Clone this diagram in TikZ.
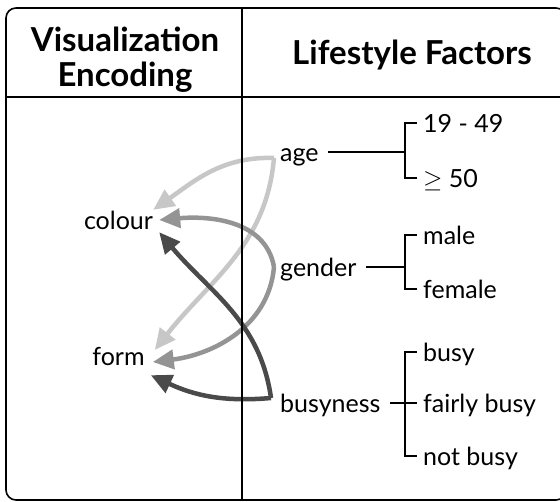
\documentclass[tikz,border=0pt]{standalone}
\usepackage{xcolor}
\usepackage{fontspec}
\setmainfont{Lato}
\usetikzlibrary{
		arrows.meta,
		calc,
		positioning
	}
\definecolor{agegray}{gray}{0.78}
\definecolor{gendergray}{gray}{0.58}
\definecolor{busygray}{gray}{0.29}
\tikzset{
		>={Triangle[length=21pt,width=19pt]},
		word/.style={font=\fontsize{25}{30}\selectfont, inner xsep=6pt, inner ysep=0pt,
			text height=20pt, text depth=0pt, anchor=base west},
		title/.style={font=\fontsize{33}{35}\selectfont\bfseries, align=center},
		tree/.style={line width=1.5pt},
		link/.style={->, line width=4.5pt}
	}

\begin{document}
\begin{tikzpicture}[x=1pt,y=1pt]
    \useasboundingbox (0,0) rectangle (560,502);

    % the headers
    \node[title, anchor=base] (enc) at (125,415) {Visualization\\Encoding};
    \node[title, anchor=base] (life) at (412,437) {Lifestyle Factors};

    % the encodings
    \node[word, anchor=base] (colour) at (118.5,272) {colour};
    \node[word, anchor=base] (form) at (118.5,136) {form};

    % the factors and their levels
    \node[word] (age) at (274,340) {age};
    \node[word] (ageup) at (417,369) {19 - 49};
    \node[word] (agelow) at (417,314) {$\geq$ 50};
    \node[word] (gender) at (274,225) {gender};
    \node[word] (male) at (417,257) {male};
    \node[word] (female) at (417,203) {female};
    \node[word] (busyness) at (274,89) {busyness};
    \node[word] (busy) at (417,140) {busy};
    \node[word] (fairly) at (417,89) {fairly busy};
    \node[word] (notbusy) at (417,36) {not busy};

    % the brackets
    \draw[tree, shorten <=3pt] (age.east) -- ([xshift=-12pt]ageup.west |- age.east);
    \draw[tree] (ageup.west) -- ++(-12,0) |- (agelow.west);
    \draw[tree, shorten <=3pt] (gender.east) -- ([xshift=-12pt]male.west |- gender.east);
    \draw[tree] (male.west) -- ++(-12,0) |- (female.west);
    \draw[tree, shorten <=3pt] (busyness.east) -- (fairly.west);
    \draw[tree] (busy.west) -- ++(-12,0) |- (notbusy.west);

    % draw the arrows
    \draw[link, agegray] ([yshift=-6pt]age.west) to[out=178, in=35] ([xshift=-6pt]colour.north east);
    \draw[link, agegray] ([yshift=-6pt]age.west) to[out=265, in=52] ([xshift=4pt,yshift=6pt]form.east);

    \draw[link, gendergray] (gender.west) to[out=100, in=5] (colour.east);
    \draw[link, gendergray] (gender.west) to[out=265, in=7] ([xshift=2pt,yshift=-6pt]form.east);

    \draw[link, busygray] ([xshift=-3pt,yshift=5pt]busyness.west) to[out=98, in=-50] ([yshift=-2pt]colour.south east);
    \draw[link, busygray] ([xshift=-3pt,yshift=5pt]busyness.west) to[out=185, in=-25] ([yshift=-9pt]form.south east);

    % draw the table
    \draw[line width=1.6pt, rounded corners=10pt] (6,2) rectangle (566,494);
    \draw[line width=1.6pt] (6,405) -- (566,405);
    \draw[line width=1.2pt] (242,2) -- (242,494);

\end{tikzpicture}
\end{document}
